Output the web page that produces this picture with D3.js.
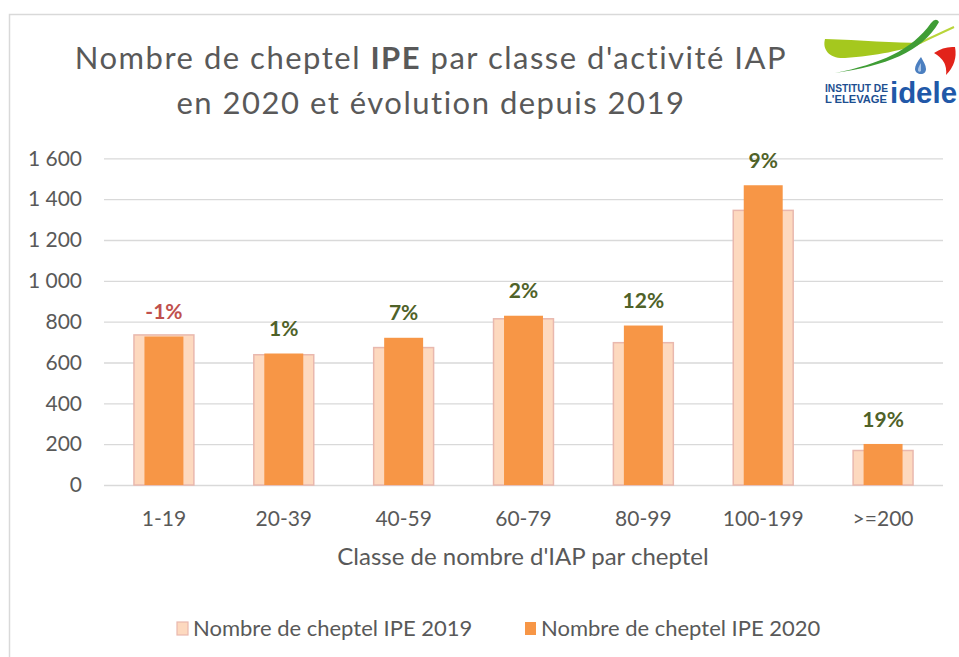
<!DOCTYPE html>
<html lang="fr">
<head>
    <meta charset="UTF-8">
    <title>Nombre de cheptel IPE par classe d'activité IAP</title>
    <style>
        body {
            margin: 0;
            background: #fff;
            font-family: 'Lato', sans-serif;
        }
        svg {
            display: block;
        }
        .tick text {
            fill: #595959;
            font-family: 'Lato', sans-serif;
            font-size: 21px;
        }
    </style>
    <script src="https://cdnjs.cloudflare.com/ajax/libs/d3/7.8.5/d3.min.js"></script>
</head>
<body>
    <svg id="graphique"></svg>
    <script>
        // Données
        const categories = ["1-19", "20-39", "40-59", "60-79", "80-99", "100-199", ">=200"];
        const cheptels2019 = [735, 638, 673, 814, 697, 1345, 169];
        const cheptels2020 = [727, 644, 721, 829, 781, 1468, 201];
        const evolutions = [-1, 1, 7, 2, 12, 9, 19];
        const yTicks = [0, 200, 400, 600, 800, 1000, 1200, 1400, 1600];
        const series = ["Nombre de cheptel IPE 2019", "Nombre de cheptel IPE 2020"];

        const width = 959, height = 657;
        const plot = { left: 104, right: 943, top: 158.3, bottom: 485 };

        const gris = "#595959";
        const couleur2019 = "#fdd9bf";
        const bord2019 = "#e9b8ae";
        const couleur2020 = "#f79646";

        const svg = d3.select("#graphique")
            .attr("width", width)
            .attr("height", height);

        svg.append("rect")
            .attr("width", width)
            .attr("height", height)
            .attr("fill", "#fff");

        // cadre du graphique
        svg.append("path")
            .attr("d", "M9.5,657 V14.5 H959")
            .attr("fill", "none")
            .attr("stroke", "#d9d9d9")
            .attr("stroke-width", 1.5);

        const x = d3.scaleBand()
            .domain(categories)
            .range([plot.left, plot.right]);

        const y = d3.scaleLinear()
            .domain([0, 1600])
            .range([plot.bottom, plot.top]);

        const fr = d3.formatLocale({ decimal: ",", thousands: " ", grouping: [3], currency: ["", " €"] });

        // grille horizontale
        svg.append("g")
            .attr("transform", `translate(${plot.left},0)`)
            .call(d3.axisLeft(y).tickValues(yTicks).tickSize(-(plot.right - plot.left)).tickFormat(""))
            .call(g => g.select(".domain").remove())
            .call(g => g.selectAll("line").attr("stroke", "#d9d9d9").attr("stroke-width", 1.3));

        // axe Y
        svg.append("g")
            .attr("transform", `translate(${plot.left},0)`)
            .call(d3.axisLeft(y).tickValues(yTicks).tickSize(0).tickPadding(22).tickFormat(fr.format(",d")))
            .call(g => g.select(".domain").remove());

        // axe X
        svg.append("g")
            .attr("transform", `translate(0,${plot.bottom})`)
            .call(d3.axisBottom(x).tickSize(0).tickPadding(26))
            .call(g => g.select(".domain").remove());

        const bw = x.bandwidth();

        // barres 2019 (larges, claires)
        svg.append("g")
            .selectAll("rect")
            .data(categories)
            .join("rect")
            .attr("x", (d, i) => x(d) + bw * 0.25)
            .attr("y", (d, i) => y(cheptels2019[i]))
            .attr("width", bw * 0.5)
            .attr("height", (d, i) => y(0) - y(cheptels2019[i]))
            .attr("fill", couleur2019)
            .attr("stroke", bord2019)
            .attr("stroke-width", 1.5);

        // barres 2020 (étroites, orange)
        svg.append("g")
            .selectAll("rect")
            .data(categories)
            .join("rect")
            .attr("x", (d, i) => x(d) + bw * (0.5 - 0.1625))
            .attr("y", (d, i) => y(cheptels2020[i]))
            .attr("width", bw * 0.325)
            .attr("height", (d, i) => y(0) - y(cheptels2020[i]))
            .attr("fill", couleur2020);

        // étiquettes d'évolution
        svg.append("g")
            .selectAll("text")
            .data(categories)
            .join("text")
            .attr("x", d => x(d) + bw / 2)
            .attr("y", (d, i) => y(cheptels2020[i]) - 25)
            .attr("dy", "0.36em")
            .attr("text-anchor", "middle")
            .attr("font-size", 21)
            .attr("font-weight", "bold")
            .attr("fill", (d, i) => evolutions[i] < 0 ? "#c0504d" : "#4f6228")
            .text((d, i) => evolutions[i] + "%");

        // titre
        const titre = svg.append("text")
            .attr("text-anchor", "middle")
            .attr("fill", gris)
            .attr("font-size", 31)
            .attr("letter-spacing", 1.5);
        const l1 = titre.append("tspan").attr("x", 431).attr("y", 68.5);
        l1.append("tspan").text("Nombre de cheptel ");
        l1.append("tspan").attr("font-weight", "bold").text("IPE");
        l1.append("tspan").text(" par classe d'activité IAP");
        titre.append("tspan").attr("x", 431).attr("y", 113.5).text("en 2020 et évolution depuis 2019");

        // titre de l'axe X
        svg.append("text")
            .attr("x", 523)
            .attr("y", 565)
            .attr("text-anchor", "middle")
            .attr("fill", gris)
            .attr("font-size", 24)
            .text("Classe de nombre d'IAP par cheptel");

        // légende
        const legende = svg.append("g");
        const posLegende = [177, 525];
        series.forEach((nom, i) => {
            const item = legende.append("g").attr("transform", `translate(${posLegende[i]},0)`);
            item.append("rect")
                .attr("x", 0)
                .attr("y", 622)
                .attr("width", 11)
                .attr("height", 13)
                .attr("fill", i === 0 ? couleur2019 : couleur2020)
                .attr("stroke", i === 0 ? bord2019 : "none")
                .attr("stroke-width", 1.2);
            item.append("text")
                .attr("x", 16)
                .attr("y", 636)
                .attr("fill", gris)
                .attr("font-size", 22)
                .text(nom);
        });

        // logo idele
        const logo = svg.append("g");
        logo.append("rect").attr("x", 808).attr("y", 17).attr("width", 151).attr("height", 93).attr("fill", "#fff");
        logo.append("path")
            .attr("d", "M825,39 C860,40 895,43 922,43 C905,50 875,56 845,58 C830,59 822,50 825,39 Z")
            .attr("fill", "#a5c81e");
        logo.append("path")
            .attr("d", "M905,50 Q930,38 954,27")
            .attr("fill", "none")
            .attr("stroke", "#b9d53a")
            .attr("stroke-width", 2);
        logo.append("path")
            .attr("d", "M835,73 C880,64 912,50 931,23 Q936,17 939,22 C922,52 885,66 835,73 Z")
            .attr("fill", "#3f9d35");
        logo.append("path")
            .attr("d", "M921,57 C917,62 915,66 915,69 C915,72 918,74 921,74 C924,74 926,72 926,69 C926,65 923,61 921,57 Z")
            .attr("fill", "#4b7fc0");
        logo.append("path")
            .attr("d", "M921,63 C919,66 918,68 918,70 C918,72 920,72 921,71 Z")
            .attr("fill", "#a9c5e8");
        logo.append("path")
            .attr("d", "M934,53 Q944,46 955,47 Q958,63 946,75 Q948,61 934,53 Z")
            .attr("fill", "#e2231a");
        logo.append("text")
            .attr("x", 825).attr("y", 92)
            .attr("font-family", "'Liberation Sans', sans-serif")
            .attr("font-weight", "bold").attr("font-size", 10.5)
            .attr("textLength", 63).attr("lengthAdjust", "spacingAndGlyphs")
            .attr("fill", "#1d4f91")
            .text("INSTITUT DE");
        logo.append("text")
            .attr("x", 825).attr("y", 102.5)
            .attr("font-family", "'Liberation Sans', sans-serif")
            .attr("font-weight", "bold").attr("font-size", 10.5)
            .attr("textLength", 62).attr("lengthAdjust", "spacingAndGlyphs")
            .attr("fill", "#1d4f91")
            .text("L'ELEVAGE");
        logo.append("text")
            .attr("x", 890).attr("y", 103)
            .attr("font-family", "'Liberation Sans', sans-serif")
            .attr("font-weight", "bold").attr("font-size", 29)
            .attr("textLength", 67).attr("lengthAdjust", "spacingAndGlyphs")
            .attr("fill", "#2158a8")
            .text("idele");
    </script>
</body>
</html>
